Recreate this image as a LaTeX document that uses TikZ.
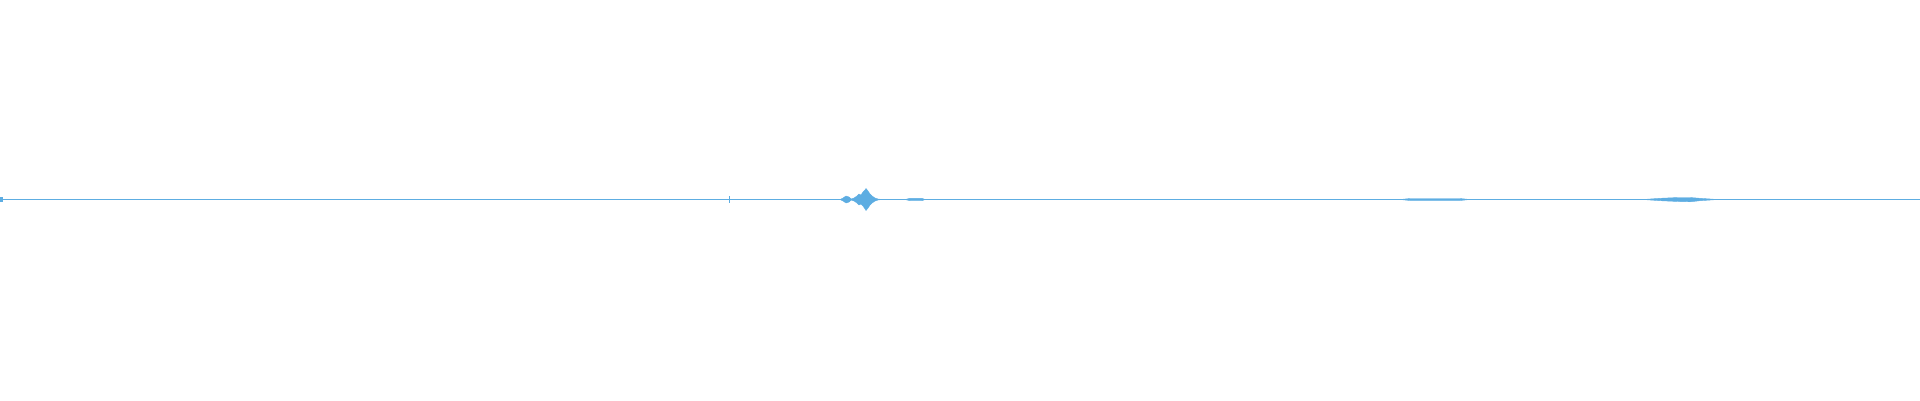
\documentclass[tikz,border=0pt]{standalone}
\definecolor{wav}{RGB}{93,173,226}
\begin{document}
\begin{tikzpicture}[x=1pt,y=-1pt]
\tikzset{wave/.style={fill=wav,draw=wav,line width=0.4pt}}
\useasboundingbox (0,0) rectangle (1920,400);
\draw[wav,line width=1.4pt] (0,199.5) -- (1920,199.5);
\fill[wav] (0,197) rectangle (3,202);
\fill[wav] (728.5,196) rectangle (729.5,203);
\path[wave] (840,199.5) -- (843,198) -- (846,196) -- (849,197) -- (851,199) -- (854,198) -- (857,196) -- (859,194) -- (861,195) -- (863,192) -- (865,190) -- (866,188.5) -- (868,191) -- (870,194) -- (872,196) -- (875,198) -- (878,199) -- (882,199.5)
 -- (878,200) -- (875,201) -- (872,203) -- (870,205) -- (868,208) -- (866,210.5) -- (865,209) -- (863,206) -- (861,204) -- (859,205) -- (857,203) -- (854,201) -- (851,200) -- (849,202) -- (846,203) -- (843,201) -- cycle;
\path[wave] (905,199.5) -- (910,198.3) -- (922,198.3) -- (925,199.5) -- (922,200.7) -- (910,200.7) -- cycle;
\path[wave] (1643,199.5) -- (1660,198.3) -- (1678,197.5) -- (1690,197.5) -- (1700,198.3) -- (1718,199.5) -- (1700,200.7) -- (1690,201.8) -- (1678,201.5) -- (1660,200.7) -- cycle;
\path[wave] (1400,199.5) -- (1410,198.5) -- (1460,198.5) -- (1470,199.5) -- (1460,200.5) -- (1410,200.5) -- cycle;
\end{tikzpicture}
\end{document}
